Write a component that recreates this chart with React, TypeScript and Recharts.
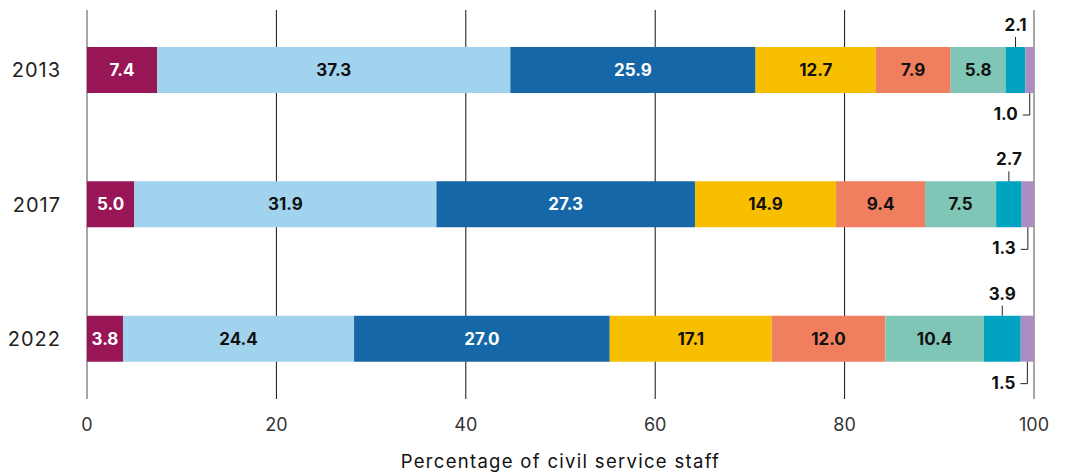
import { BarChart, Bar, XAxis, YAxis, CartesianGrid, LabelList } from "recharts";

const YEARS = ["2013", "2017", "2022"];

// shares of civil service staff, one array per stacked segment (left to right)
const SEG_1 = [7.4, 5.0, 3.8];
const SEG_2 = [37.3, 31.9, 24.4];
const SEG_3 = [25.9, 27.3, 27.0];
const SEG_4 = [12.7, 14.9, 17.1];
const SEG_5 = [7.9, 9.4, 12.0];
const SEG_6 = [5.8, 7.5, 10.4];
const SEG_7 = [2.1, 2.7, 3.9];
const SEG_8 = [1.0, 1.3, 1.5];

const X_TICKS = [0, 20, 40, 60, 80, 100];

const SEGMENTS = [SEG_1, SEG_2, SEG_3, SEG_4, SEG_5, SEG_6, SEG_7, SEG_8];
const COLORS = ["#981656", "#A1D3EE", "#1667A7", "#F8BE00", "#EF7F5F", "#80C6B7", "#00A3C0", "#AC8CC1"];
const LABEL_COLORS = ["#fff", "#111", "#fff", "#111", "#111", "#111"];

const FONT = "Inter, 'Liberation Sans', Arial, sans-serif";

const data = YEARS.map((year, i) => {
  const row: Record<string, any> = { year };
  SEGMENTS.forEach((s, k) => { row["s" + k] = s[i]; });
  return row;
});

const fmt = (v: any) => Number(v).toFixed(1);

// small segment: label sits above with a short tick down to the bar
const AboveLabel = (props: any) => {
  const { x, y, width, value } = props;
  const cx = x + width / 2;
  return (
    <g>
      <line x1={cx} y1={y - 10} x2={cx} y2={y} stroke="#222" strokeWidth={1} />
      <text x={cx} y={y - 22} textAnchor="middle" dominantBaseline="central"
        style={{ fontFamily: FONT, fontSize: 17, fontWeight: 700, fill: "#111" }}>
        {fmt(value)}
      </text>
    </g>
  );
};

// smallest segment: label below-left with an L-shaped leader
const BelowLabel = (props: any) => {
  const { x, y, width, height, value } = props;
  const cx = x + width / 2;
  const by = y + height;
  return (
    <g>
      <polyline points={`${cx - 7},${by + 22} ${cx},${by + 22} ${cx},${by}`} fill="none" stroke="#222" strokeWidth={1} />
      <text x={cx - 12} y={by + 21} textAnchor="end" dominantBaseline="central"
        style={{ fontFamily: FONT, fontSize: 17, fontWeight: 700, fill: "#111" }}>
        {fmt(value)}
      </text>
    </g>
  );
};

const GridLine = (props: any) => {
  const { x1, y1, x2, y2, index } = props;
  const edge = index === 0 || index === X_TICKS.length - 1;
  return (
    <line key={"g" + index} x1={x1} y1={y1 + 7} x2={x2} y2={y2 - 7}
      stroke={edge ? "#8a8a8a" : "#111"} strokeWidth={edge ? 1.5 : 1} />
  );
};

export default function App() {
  return (
    <div style={{ marginTop: -8, fontFamily: FONT }}>
      <BarChart width={1051} height={475} data={data} layout="vertical"
        margin={{ top: 3, right: 25, bottom: 39, left: 0 }} barSize={46}>
        <CartesianGrid horizontal={false} vertical={GridLine as any} />
        <XAxis type="number" domain={[0, 100]} ticks={X_TICKS} allowDataOverflow
          axisLine={false} tickLine={false} tickMargin={6} height={30}
          tick={{ fontSize: 18, fill: "#333", fontFamily: FONT }}
          label={{ value: "Percentage of civil service staff", position: "bottom", offset: 19, fontSize: 18.5, fill: "#111", fontFamily: FONT, letterSpacing: 1.3 }} />
        <YAxis type="category" dataKey="year" width={79} axisLine={false} tickLine={false}
          tickMargin={20} tick={{ fontSize: 20, fill: "#222", fontFamily: FONT, letterSpacing: 1 }} />
        {SEGMENTS.map((_, k) => (
          <Bar key={k} dataKey={"s" + k} stackId="a" fill={COLORS[k]} isAnimationActive={false}>
            {k < 6 && (
              <LabelList dataKey={"s" + k} position="center" formatter={fmt}
                style={{ fontFamily: FONT, fontSize: 17, fontWeight: 700, fill: LABEL_COLORS[k] }} />
            )}
            {k === 6 && <LabelList dataKey={"s" + k} content={AboveLabel} />}
            {k === 7 && <LabelList dataKey={"s" + k} content={BelowLabel} />}
          </Bar>
        ))}
      </BarChart>
    </div>
  );
}
